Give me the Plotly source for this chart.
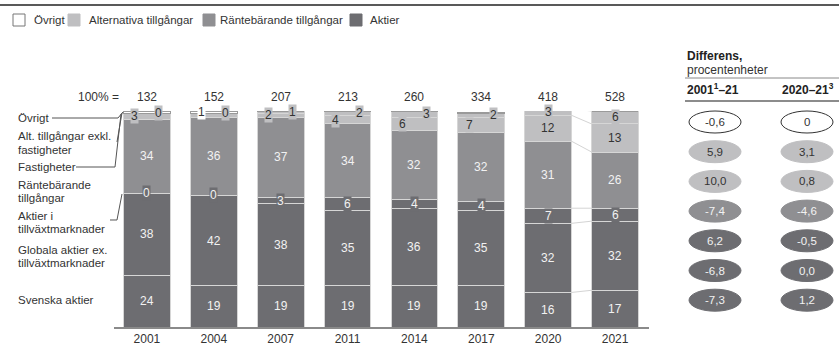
import plotly.graph_objects as go

# ---------------- data ----------------
years = ["2001", "2004", "2007", "2011", "2014", "2017", "2020", "2021"]
totals = [132, 152, 207, 213, 260, 334, 418, 528]

svenska = [24, 19, 19, 19, 19, 19, 16, 17]
globala = [38, 42, 38, 35, 36, 35, 32, 32]
tillvaxt = [0, 0, 3, 6, 4, 4, 7, 6]
ranta = [34, 36, 37, 34, 32, 32, 31, 26]
fastigheter = [3, 2, 2, 4, 6, 7, 12, 13]
alt_exkl = [0, 0, 1, 2, 3, 2, 3, 6]
ovrigt = [0.6, 1, 0, 0, 1, 0.5, 0, 0]

row_labels = ["Övrigt", "Alt. tillgångar exkl.<br>fastigheter", "Fastigheter",
              "Räntebärande<br>tillgångar", "Aktier i<br>tillväxtmarknader",
              "Globala aktier ex.<br>tillväxtmarknader", "Svenska aktier"]
diff_2001_21 = ["-0,6", "5,9", "10,0", "-7,4", "6,2", "-6,8", "-7,3"]
diff_2020_21 = ["0", "3,1", "0,8", "-4,6", "-0,5", "0,0", "1,2"]

legend_names = ["Övrigt", "Alternativa tillgångar", "Räntebärande tillgångar", "Aktier"]

# ---------------- styling ----------------
W, H = 839, 345
FONT = "Liberation Sans, Arial, sans-serif"
DARK = "#6d6d71"
MID = "#8f8f92"
LIGHT = "#bfbfc1"
WHITE = "#ffffff"
TXT = "#333333"
SEP = "#d6d6d6"
FS = 12


def px(x):
    return x / W


def py(y):
    return 1 - y / H


def note(x, y, text, size=FS, color=TXT, xanchor="center", yanchor="middle", **kw):
    d = dict(x=x, y=y, text=text, showarrow=False, xanchor=xanchor, yanchor=yanchor,
             font=dict(family=FONT, size=size, color=color))
    d.update(kw)
    return d


x_idx = list(range(len(years)))
BW = 0.7

series = [
    ("Svenska aktier", svenska, DARK),
    ("Globala aktier", globala, DARK),
    ("Aktier i tillväxtmarknader", tillvaxt, DARK),
    ("Räntebärande", ranta, MID),
    ("Fastigheter", fastigheter, LIGHT),
    ("Alt. exkl. fastigheter", alt_exkl, LIGHT),
    ("Övrigt", ovrigt, WHITE),
]

fig = go.Figure()
for name, vals, col in series:
    fig.add_trace(go.Bar(
        x=x_idx, y=vals, name=name, width=BW,
        marker=dict(color=col, line=dict(color="#9a9a9a" if col == WHITE else SEP, width=1)),
        showlegend=False, hoverinfo="skip",
    ))

annotations = []
shapes = []

cums = []
base = [0] * len(years)
for name, vals, col in series:
    cums.append(list(base))
    base = [b + v for b, v in zip(base, vals)]


def seg_mid(si, i):
    return cums[si][i] + series[si][1][i] / 2


D = dict(xref="x", yref="y")
P = dict(xref="paper", yref="paper")

for i in x_idx:
    for si in (0, 1, 3):
        annotations.append(note(i, seg_mid(si, i), str(series[si][1][i]), color="#f2f2f2", **D))
    annotations.append(note(i, seg_mid(2, i), str(tillvaxt[i]), color="#f2f2f2",
                            bgcolor=DARK, borderpad=0, **D))
    big = fastigheter[i] >= 10
    ov_lab = ovrigt[i] >= 1
    if big:
        annotations.append(note(i, seg_mid(4, i), str(fastigheter[i]), **D))
    elif not (ov_lab and fastigheter[i] < 5):
        annotations.append(note(i, seg_mid(4, i), str(fastigheter[i]), xshift=-12,
                                bgcolor=LIGHT, borderpad=0, **D))
    annotations.append(note(i, seg_mid(5, i), str(alt_exkl[i]), xshift=0 if big else 12,
                            bgcolor=LIGHT, borderpad=0, **D))
    if ov_lab:
        annotations.append(note(i, seg_mid(6, i), str(int(ovrigt[i])), xshift=-12,
                                bgcolor=WHITE, borderpad=0, **D))
    annotations.append(note(i, 100, str(totals[i]), yshift=14, **D))

annotations.append(note(px(121), py(97), "100% =", xanchor="right", **P))

# connectors between 2020 and 2021
c20 = [cums[s][6] + series[s][1][6] for s in range(6)]
c21 = [cums[s][7] + series[s][1][7] for s in range(6)]
for a, b in zip(c20, c21):
    shapes.append(dict(type="line", xref="x", yref="y", x0=6 + BW / 2, x1=7 - BW / 2,
                       y0=a, y1=b, line=dict(color="#d4d4d4", width=1)))

# left row labels (each line placed separately for tight leading)
label_y = [118, 143, 167, 191, 222, 256, 300]
LEAD = 13
for t, yy in zip(row_labels, label_y):
    lines = t.split("<br>")
    n = len(lines)
    for k, ln in enumerate(lines):
        ly = yy + (k - (n - 1) / 2) * LEAD
        annotations.append(note(px(16), py(ly), ln, size=11.5, xanchor="left", **P))


def path(points):
    d = "M " + " L ".join(f"{px(a):.5f},{py(b):.5f}" for a, b in points)
    return dict(type="path", xref="paper", yref="paper", path=d,
                line=dict(color="#555555", width=1))


shapes.append(path([(52, 118), (118, 118), (123, 112)]))
shapes.append(path([(117, 142), (122, 113)]))
shapes.append(path([(76, 167), (115, 167), (121, 114)]))
shapes.append(path([(110, 220), (117, 220), (122, 194)]))

# legend
leg_x = [(13, 32), (68, 87), (203, 218), (350, 368)]
leg_cols = [WHITE, LIGHT, MID, DARK]
for (bx, tx), c, n in zip(leg_x, leg_cols, legend_names):
    shapes.append(dict(type="rect", xref="paper", yref="paper", x0=px(bx), x1=px(bx + 12),
                       y0=py(26), y1=py(14), fillcolor=c,
                       line=dict(color="#777777" if c == WHITE else c, width=1)))
    annotations.append(note(px(tx), py(20), n, size=11.5, xanchor="left", **P))

# top rule
shapes.append(dict(type="line", xref="paper", yref="paper", x0=0, x1=1, y0=py(5), y1=py(5),
                   line=dict(color="#222222", width=1.5)))

# right panel
annotations.append(note(px(685), py(56), "<b>Differens,</b>", color="#222", xanchor="left", **P))
annotations.append(note(px(685), py(70), "procentenheter", xanchor="left", **P))
shapes.append(dict(type="line", xref="paper", yref="paper", x0=px(685), x1=1, y0=py(78), y1=py(78),
                   line=dict(color="#888888", width=1)))
annotations.append(note(px(685), py(89), "<b>2001<sup>1</sup>–21</b>", color="#222", xanchor="left", **P))
annotations.append(note(px(780), py(89), "<b>2020–21<sup>3</sup></b>", color="#222", xanchor="left", **P))
shapes.append(dict(type="line", xref="paper", yref="paper", x0=px(685), x1=1, y0=py(101), y1=py(101),
                   line=dict(color="#666666", width=1.5)))

row_fill = [WHITE, LIGHT, LIGHT, MID, DARK, DARK, DARK]
row_txt = [TXT, TXT, TXT, "#f2f2f2", "#f2f2f2", "#f2f2f2", "#f2f2f2"]
row_y0 = 122
row_step = 29.7
ow, oh = 52, 22
for r in range(7):
    cy = row_y0 + r * row_step
    for cx, vals in ((715, diff_2001_21), (807, diff_2020_21)):
        shapes.append(dict(type="circle", xref="paper", yref="paper",
                           x0=px(cx - ow / 2), x1=px(cx + ow / 2), y0=py(cy + oh / 2), y1=py(cy - oh / 2),
                           fillcolor=row_fill[r],
                           line=dict(color="#333333" if row_fill[r] == WHITE else row_fill[r], width=1)))
        annotations.append(note(px(cx), py(cy), vals[r], size=11.5, color=row_txt[r], **P))

fig.update_layout(
    width=W, height=H, autosize=False,
    margin=dict(l=0, r=0, t=0, b=0),
    paper_bgcolor="white", plot_bgcolor="white",
    barmode="stack", bargap=0.3,
    annotations=annotations, shapes=shapes,
    xaxis=dict(domain=[px(113.5), px(648.5)], range=[-0.5, 7.5], tickvals=x_idx, ticktext=years,
               showgrid=False, zeroline=False, showline=True, linecolor="#8a8a8a", linewidth=2,
               ticks="", tickfont=dict(family=FONT, size=12, color=TXT), fixedrange=True),
    yaxis=dict(domain=[py(327), py(111)], range=[0, 100], visible=False, fixedrange=True),
)

fig.write_html("out.html", post_script="document.body.style.margin='0';",
               config={"displayModeBar": False})
